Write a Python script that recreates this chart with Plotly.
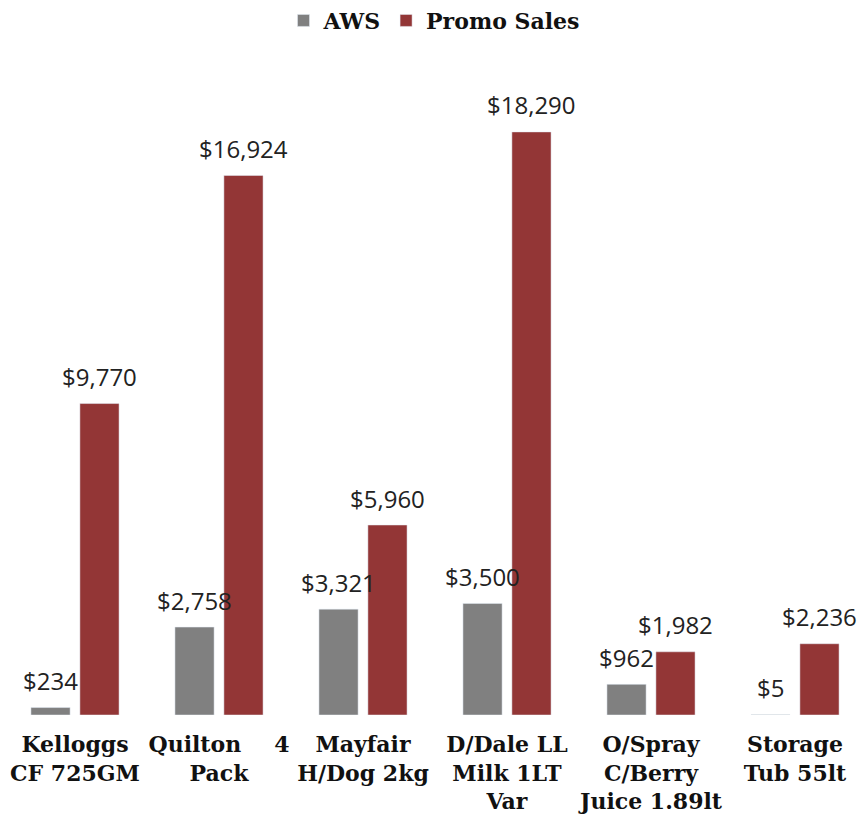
import plotly.graph_objects as go

categories = [
    "Kelloggs<br>CF 725GM",
    "Quilton\u2002\u2002\u20024<br>Pack",
    "Mayfair<br>H/Dog 2kg",
    "D/Dale LL<br>Milk 1LT<br>Var",
    "O/Spray<br>C/Berry<br>Juice 1.89lt",
    "Storage<br>Tub 55lt",
]
aws = [234, 2758, 3321, 3500, 962, 5]
promo = [9770, 16924, 5960, 18290, 1982, 2236]

label_font = dict(family="Open Sans", size=24, color="#222222")
slab_legend = dict(family="DejaVu Serif", size=22, color="#111111", weight="bold")
slab_ticks = dict(family="DejaVu Serif", size=22, color="#111111", weight="bold")

fig = go.Figure()
fig.add_trace(go.Bar(name="AWS", x=categories, y=aws, marker_color="#808080"))
fig.add_trace(go.Bar(name="Promo Sales", x=categories, y=promo, marker_color="#933636"))

# value labels placed in data coordinates, shifted onto each bar of the group
annotations = []
for series, xs in ((aws, -24.5), (promo, 24.5)):
    for cat, v in zip(categories, series):
        annotations.append(dict(
            x=cat, y=v, xref="x", yref="y", text=f"${v:,}", showarrow=False,
            xshift=xs, yshift=27, yanchor="middle", xanchor="center",
            font=label_font,
        ))

fig.update_layout(
    width=868, height=825,
    margin=dict(l=3, r=1, t=60, b=110, autoexpand=False),
    paper_bgcolor="white", plot_bgcolor="white",
    barmode="group", bargap=0.32, bargroupgap=0.2,
    showlegend=True,
    legend=dict(orientation="h", x=0.5, xanchor="center", xref="container",
                y=0.975, yanchor="middle", yref="container",
                font=slab_legend, traceorder="normal"),
    xaxis=dict(showgrid=False, showline=False, zeroline=False, automargin=False,
               tickfont=slab_ticks, ticklabelstandoff=14),
    yaxis=dict(visible=False, range=[0, 20546], showgrid=False, zeroline=False),
    annotations=annotations,
)

fig.write_html("out.html", config={"displayModeBar": False},
               post_script="document.body.style.margin='0px';")
